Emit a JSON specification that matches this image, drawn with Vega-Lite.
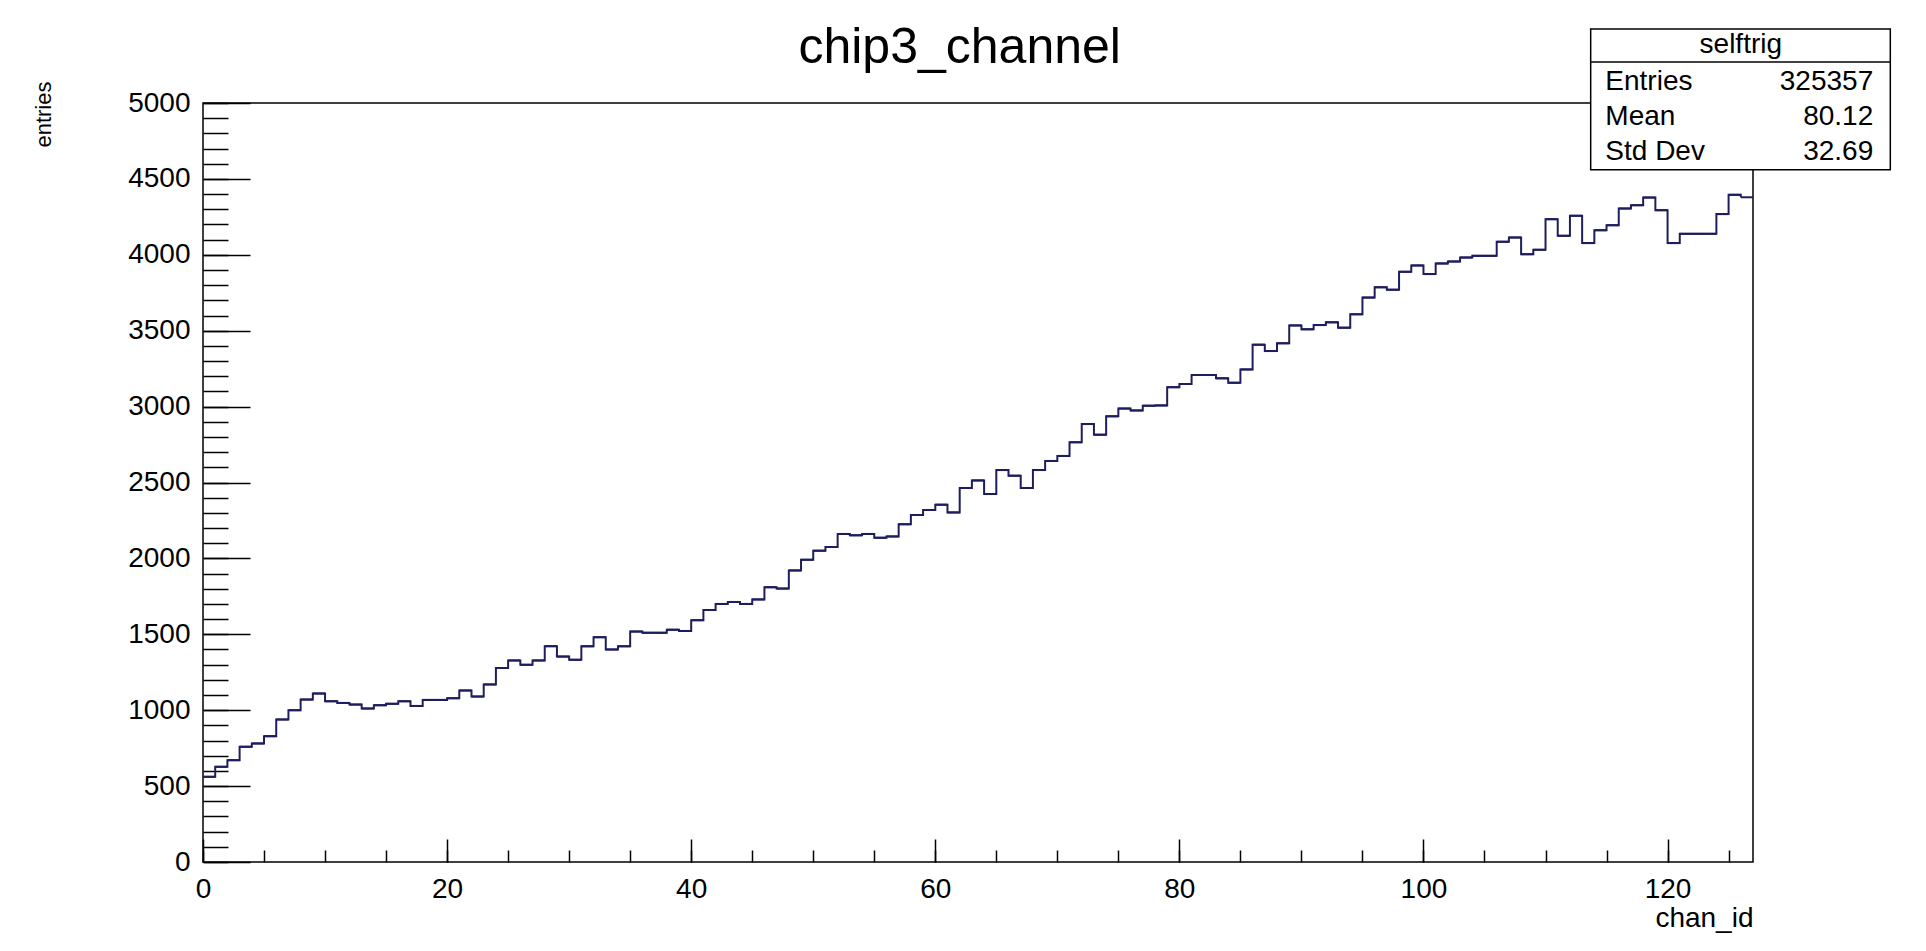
{
  "$schema": "https://vega.github.io/schema/vega-lite/v6.json",
  "width": 1550,
  "height": 759,
  "autosize": "none",
  "padding": {"left": 203, "top": 103, "right": 173, "bottom": 89},
  "background": "white",
  "config": {
    "font": "Liberation Sans",
    "view": {"stroke": "black", "strokeWidth": 1.5},
    "axis": {"grid": false, "labelColor": "black", "titleColor": "black", "tickColor": "black", "domainColor": "black", "labelFont": "Liberation Sans", "titleFont": "Liberation Sans", "titleFontWeight": "normal", "labelOverlap": false, "labelFlush": false}
  },
  "datasets": {
    "hist": [
      {"chan": 0, "count": 561}, {"chan": 1, "count": 627}, {"chan": 2, "count": 671}, {"chan": 3, "count": 759},
      {"chan": 4, "count": 781}, {"chan": 5, "count": 829}, {"chan": 6, "count": 939}, {"chan": 7, "count": 1000},
      {"chan": 8, "count": 1070}, {"chan": 9, "count": 1110}, {"chan": 10, "count": 1059}, {"chan": 11, "count": 1048},
      {"chan": 12, "count": 1037}, {"chan": 13, "count": 1011}, {"chan": 14, "count": 1033}, {"chan": 15, "count": 1042},
      {"chan": 16, "count": 1059}, {"chan": 17, "count": 1028}, {"chan": 18, "count": 1068}, {"chan": 19, "count": 1068},
      {"chan": 20, "count": 1079}, {"chan": 21, "count": 1130}, {"chan": 22, "count": 1090}, {"chan": 23, "count": 1170},
      {"chan": 24, "count": 1278}, {"chan": 25, "count": 1328}, {"chan": 26, "count": 1299}, {"chan": 27, "count": 1328},
      {"chan": 28, "count": 1422}, {"chan": 29, "count": 1353}, {"chan": 30, "count": 1332}, {"chan": 31, "count": 1421},
      {"chan": 32, "count": 1481}, {"chan": 33, "count": 1400}, {"chan": 34, "count": 1421}, {"chan": 35, "count": 1518},
      {"chan": 36, "count": 1510}, {"chan": 37, "count": 1510}, {"chan": 38, "count": 1530}, {"chan": 39, "count": 1522},
      {"chan": 40, "count": 1593}, {"chan": 41, "count": 1660}, {"chan": 42, "count": 1700}, {"chan": 43, "count": 1713},
      {"chan": 44, "count": 1700}, {"chan": 45, "count": 1730}, {"chan": 46, "count": 1810}, {"chan": 47, "count": 1801},
      {"chan": 48, "count": 1921}, {"chan": 49, "count": 1991}, {"chan": 50, "count": 2051}, {"chan": 51, "count": 2075},
      {"chan": 52, "count": 2161}, {"chan": 53, "count": 2152}, {"chan": 54, "count": 2161}, {"chan": 55, "count": 2136},
      {"chan": 56, "count": 2145}, {"chan": 57, "count": 2225}, {"chan": 58, "count": 2286}, {"chan": 59, "count": 2319},
      {"chan": 60, "count": 2354}, {"chan": 61, "count": 2303}, {"chan": 62, "count": 2464}, {"chan": 63, "count": 2514},
      {"chan": 64, "count": 2424}, {"chan": 65, "count": 2582}, {"chan": 66, "count": 2545}, {"chan": 67, "count": 2464},
      {"chan": 68, "count": 2582}, {"chan": 69, "count": 2642}, {"chan": 70, "count": 2675}, {"chan": 71, "count": 2765},
      {"chan": 72, "count": 2885}, {"chan": 73, "count": 2815}, {"chan": 74, "count": 2936}, {"chan": 75, "count": 2987},
      {"chan": 76, "count": 2975}, {"chan": 77, "count": 3006}, {"chan": 78, "count": 3008}, {"chan": 79, "count": 3128},
      {"chan": 80, "count": 3149}, {"chan": 81, "count": 3208}, {"chan": 82, "count": 3208}, {"chan": 83, "count": 3186},
      {"chan": 84, "count": 3157}, {"chan": 85, "count": 3245}, {"chan": 86, "count": 3408}, {"chan": 87, "count": 3366},
      {"chan": 88, "count": 3417}, {"chan": 89, "count": 3535}, {"chan": 90, "count": 3509}, {"chan": 91, "count": 3537},
      {"chan": 92, "count": 3555}, {"chan": 93, "count": 3520}, {"chan": 94, "count": 3608}, {"chan": 95, "count": 3718},
      {"chan": 96, "count": 3786}, {"chan": 97, "count": 3770}, {"chan": 98, "count": 3888}, {"chan": 99, "count": 3930},
      {"chan": 100, "count": 3873}, {"chan": 101, "count": 3943}, {"chan": 102, "count": 3956}, {"chan": 103, "count": 3982},
      {"chan": 104, "count": 3993}, {"chan": 105, "count": 3993}, {"chan": 106, "count": 4086}, {"chan": 107, "count": 4114},
      {"chan": 108, "count": 4004}, {"chan": 109, "count": 4033}, {"chan": 110, "count": 4235}, {"chan": 111, "count": 4125},
      {"chan": 112, "count": 4257}, {"chan": 113, "count": 4077}, {"chan": 114, "count": 4162}, {"chan": 115, "count": 4195},
      {"chan": 116, "count": 4305}, {"chan": 117, "count": 4327}, {"chan": 118, "count": 4377}, {"chan": 119, "count": 4294},
      {"chan": 120, "count": 4077}, {"chan": 121, "count": 4138}, {"chan": 122, "count": 4138}, {"chan": 123, "count": 4138},
      {"chan": 124, "count": 4268}, {"chan": 125, "count": 4395}, {"chan": 126, "count": 4379}
    ],
    "stats": [
      {"stat": "Entries", "value": "325357"},
      {"stat": "Mean", "value": "80.12"},
      {"stat": "Std Dev", "value": "32.69"}
    ],
    "statbox": [
      {"name": "selftrig", "title": "chip3_channel"}
    ]
  },
  "resolve": {"axis": {"x": "independent", "y": "independent"}},
  "layer": [
    {
      "data": {"name": "hist"},
      "mark": {"type": "line", "interpolate": "step-after", "color": "#1e1e5e", "strokeWidth": 2},
      "encoding": {
        "x": {"field": "chan", "type": "quantitative",
          "scale": {"domain": [0, 127], "nice": false, "zero": false},
          "axis": {"orient": "bottom", "ticks": false, "domain": false, "tickCount": 6, "labelFontSize": 28, "labelPadding": 13, "title": "chan_id", "titleFontSize": 28, "titleAnchor": "end", "titleAlign": "right", "titlePadding": 1}},
        "y": {"field": "count", "type": "quantitative",
          "scale": {"domain": [0, 5000], "nice": false},
          "axis": {"orient": "left", "ticks": false, "domain": false, "tickCount": 10, "format": "d", "labelFontSize": 28, "labelPadding": 13, "title": "entries", "titleFontSize": 22, "titleAnchor": "end", "titleAlign": "right", "titleY": -22, "titlePadding": 72}}
      }
    },
    {
      "data": {"name": "hist"},
      "transform": [{"bin": {"step": 1, "extent": [0, 127]}, "field": "chan", "as": ["bin_start", "bin_end"]}],
      "mark": {"type": "rule", "color": "#1e1e5e", "strokeWidth": 2},
      "encoding": {
        "x": {"field": "bin_start", "type": "quantitative",
          "scale": {"domain": [0, 127], "nice": false, "zero": false},
          "axis": {"orient": "bottom", "labels": false, "domain": false, "tickCount": 6, "tickSize": -23, "tickWidth": 1.5, "title": null}},
        "x2": {"field": "bin_end"},
        "y": {"field": "count", "type": "quantitative",
          "scale": {"domain": [0, 5000], "nice": false},
          "axis": {"orient": "left", "labels": false, "domain": false, "tickCount": 10, "tickSize": -47, "tickWidth": 1.5, "title": null}}
      }
    },
    {
      "data": {"name": "statbox"},
      "mark": {"type": "rect", "fill": "white", "stroke": "black", "strokeWidth": 1.5},
      "encoding": {
        "x": {"datum": 113.7, "type": "quantitative",
          "scale": {"domain": [0, 127], "nice": false, "zero": false},
          "axis": {"orient": "bottom", "labels": false, "domain": false, "tickCount": 26, "tickSize": -12, "tickWidth": 1.5, "title": null}},
        "x2": {"datum": 138.25},
        "y": {"datum": 5487, "type": "quantitative",
          "scale": {"domain": [0, 5000], "nice": false},
          "axis": {"orient": "left", "labels": false, "domain": false, "tickCount": 50, "tickSize": -25, "tickWidth": 1.5, "title": null}},
        "y2": {"datum": 4561}
      }
    },
    {
      "data": {"name": "statbox"},
      "mark": {"type": "rule", "color": "black", "strokeWidth": 1.5},
      "encoding": {
        "x": {"datum": 113.7, "type": "quantitative", "scale": {"domain": [0, 127], "nice": false, "zero": false}, "axis": null},
        "x2": {"datum": 138.25},
        "y": {"datum": 5270, "type": "quantitative", "scale": {"domain": [0, 5000], "nice": false}, "axis": null}
      }
    },
    {
      "data": {"name": "statbox"},
      "mark": {"type": "text", "fontSize": 28, "font": "Liberation Sans", "align": "center", "baseline": "middle", "color": "black"},
      "encoding": {
        "x": {"datum": 126.0, "type": "quantitative", "scale": {"domain": [0, 127], "nice": false, "zero": false}, "axis": null},
        "y": {"datum": 5382, "type": "quantitative", "scale": {"domain": [0, 5000], "nice": false}, "axis": null},
        "text": {"field": "name"}
      }
    },
    {
      "data": {"name": "statbox"},
      "mark": {"type": "text", "fontSize": 50, "font": "Liberation Sans", "align": "center", "baseline": "alphabetic", "color": "black"},
      "encoding": {
        "x": {"datum": 62.0, "type": "quantitative", "scale": {"domain": [0, 127], "nice": false, "zero": false}, "axis": null},
        "y": {"datum": 5263, "type": "quantitative", "scale": {"domain": [0, 5000], "nice": false}, "axis": null},
        "text": {"field": "title"}
      }
    },
    {
      "data": {"name": "stats"},
      "transform": [{"filter": "datum.stat == 'Entries'"}],
      "encoding": {
        "y": {"datum": 5138, "type": "quantitative", "scale": {"domain": [0, 5000], "nice": false}, "axis": null}
      },
      "layer": [
        {"mark": {"type": "text", "fontSize": 28, "font": "Liberation Sans", "align": "left", "baseline": "middle", "color": "black"},
         "encoding": {"x": {"datum": 114.9, "type": "quantitative", "scale": {"domain": [0, 127], "nice": false, "zero": false}, "axis": null}, "text": {"field": "stat"}}},
        {"mark": {"type": "text", "fontSize": 28, "font": "Liberation Sans", "align": "right", "baseline": "middle", "color": "black"},
         "encoding": {"x": {"datum": 136.85, "type": "quantitative", "scale": {"domain": [0, 127], "nice": false, "zero": false}, "axis": null}, "text": {"field": "value"}}}
      ]
    },
    {
      "data": {"name": "stats"},
      "transform": [{"filter": "datum.stat == 'Mean'"}],
      "encoding": {
        "y": {"datum": 4908, "type": "quantitative", "scale": {"domain": [0, 5000], "nice": false}, "axis": null}
      },
      "layer": [
        {"mark": {"type": "text", "fontSize": 28, "font": "Liberation Sans", "align": "left", "baseline": "middle", "color": "black"},
         "encoding": {"x": {"datum": 114.9, "type": "quantitative", "scale": {"domain": [0, 127], "nice": false, "zero": false}, "axis": null}, "text": {"field": "stat"}}},
        {"mark": {"type": "text", "fontSize": 28, "font": "Liberation Sans", "align": "right", "baseline": "middle", "color": "black"},
         "encoding": {"x": {"datum": 136.85, "type": "quantitative", "scale": {"domain": [0, 127], "nice": false, "zero": false}, "axis": null}, "text": {"field": "value"}}}
      ]
    },
    {
      "data": {"name": "stats"},
      "transform": [{"filter": "datum.stat == 'Std Dev'"}],
      "encoding": {
        "y": {"datum": 4678, "type": "quantitative", "scale": {"domain": [0, 5000], "nice": false}, "axis": null}
      },
      "layer": [
        {"mark": {"type": "text", "fontSize": 28, "font": "Liberation Sans", "align": "left", "baseline": "middle", "color": "black"},
         "encoding": {"x": {"datum": 114.9, "type": "quantitative", "scale": {"domain": [0, 127], "nice": false, "zero": false}, "axis": null}, "text": {"field": "stat"}}},
        {"mark": {"type": "text", "fontSize": 28, "font": "Liberation Sans", "align": "right", "baseline": "middle", "color": "black"},
         "encoding": {"x": {"datum": 136.85, "type": "quantitative", "scale": {"domain": [0, 127], "nice": false, "zero": false}, "axis": null}, "text": {"field": "value"}}}
      ]
    }
  ]
}
